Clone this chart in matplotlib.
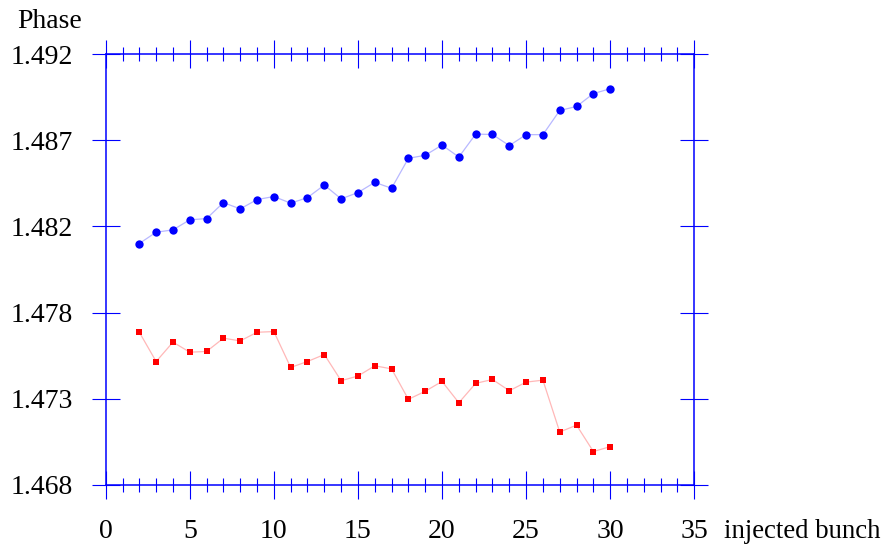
import matplotlib.pyplot as plt
import numpy as np
from matplotlib.ticker import MultipleLocator, FormatStrFormatter

# injected bunch number
bunch = np.arange(2, 31)

# phase of the two series
phase_blue = [1.48145, 1.48208, 1.48221, 1.48277, 1.48284, 1.48373, 1.48338,
              1.48390, 1.48407, 1.48370, 1.48401, 1.48471, 1.48394, 1.48429,
              1.48486, 1.48453, 1.48620, 1.48637, 1.48694, 1.48627, 1.48755,
              1.48753, 1.48691, 1.48752, 1.48752, 1.48887, 1.48909, 1.48981,
              1.49008]
phase_red = [1.47650, 1.47487, 1.47595, 1.47539, 1.47543, 1.47617, 1.47602,
             1.47650, 1.47654, 1.47454, 1.47487, 1.47526, 1.47380, 1.47406,
             1.47463, 1.47446, 1.47276, 1.47321, 1.47376, 1.47257, 1.47365,
             1.47387, 1.47324, 1.47372, 1.47383, 1.47094, 1.47132, 1.46985,
             1.47012]

y_ticks = np.linspace(1.468, 1.492, 6)


def main():
    plt.rcParams['font.family'] = ['Liberation Serif', 'DejaVu Serif']
    fig = plt.figure(figsize=(8.86, 5.48), dpi=100)
    ax = fig.add_axes([0.1193, 0.1155, 0.6643, 0.7854])

    ax.plot(bunch, phase_blue, color='#b8b8ff', lw=0.9, marker='o',
            ms=6.0, mfc='blue', mec='blue', mew=0)
    ax.plot(bunch, phase_red, color='#ffb8b8', lw=0.9, marker='s',
            ms=4.4, mfc='red', mec='red', mew=0)

    ax.set_xlim(0, 35)
    ax.set_ylim(1.468, 1.492)
    ax.xaxis.set_major_locator(MultipleLocator(5))
    ax.xaxis.set_minor_locator(MultipleLocator(1))
    ax.set_yticks(y_ticks)
    ax.yaxis.set_major_formatter(FormatStrFormatter('%.3f'))

    for s in ax.spines.values():
        s.set_color('blue')
        s.set_linewidth(1.1)

    ax.tick_params(which='both', direction='inout', colors='blue',
                   top=True, right=True, labeltop=False, labelright=False,
                   labelcolor='black', labelsize=20, width=0.8)
    ax.tick_params(axis='x', which='major', length=19.7, pad=15)
    ax.tick_params(axis='x', which='minor', length=9.6)
    ax.tick_params(axis='y', which='major', length=20.2, pad=13.4)

    fig.text(17 / 886, 1 - 28 / 548, 'Phase', fontsize=20, va='baseline')
    fig.text(724 / 886, 1 - 538 / 548, 'injected bunch', fontsize=19.3,
             va='baseline')

    plt.savefig('out.png', dpi=100)


if __name__ == "__main__": main()
